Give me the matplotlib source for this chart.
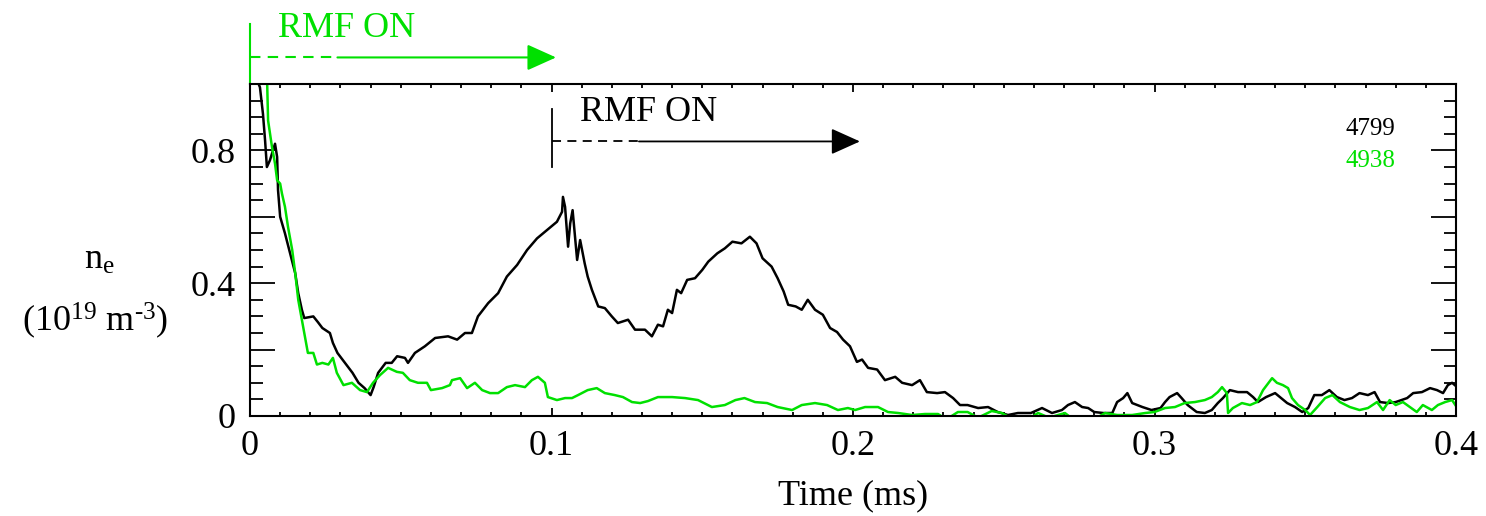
import matplotlib
matplotlib.use("Agg")
import matplotlib.pyplot as plt
from matplotlib.ticker import MultipleLocator

plt.rcParams["font.family"] = ["Liberation Serif", "DejaVu Serif"]
plt.rcParams["mathtext.fontset"] = "custom"
plt.rcParams["mathtext.rm"] = "Liberation Serif"
plt.rcParams["mathtext.it"] = "Liberation Serif:italic"

# shot 4799 (black), time in ms, density in 1e19 m^-3
t_4799 = [
    0.0, 0.002, 0.0033, 0.0043, 0.005, 0.0056, 0.0066, 0.0083, 0.009, 0.0093,
    0.010, 0.0116, 0.0133, 0.015, 0.016, 0.0172, 0.018, 0.021, 0.0225, 0.024,
    0.0265, 0.0275, 0.029, 0.0315, 0.034, 0.036, 0.038, 0.040, 0.041, 0.0425,
    0.045, 0.047, 0.0488, 0.0514, 0.0524, 0.0547, 0.058, 0.0614, 0.0657, 0.0687,
    0.0713, 0.0736, 0.0756, 0.079, 0.0823, 0.0852, 0.0886, 0.0919, 0.0952, 0.0985,
    0.1018, 0.1035, 0.1038, 0.1045, 0.1055, 0.1062, 0.107, 0.1085, 0.1095, 0.111,
    0.112, 0.1134, 0.1155, 0.1177, 0.120, 0.122, 0.1254, 0.1277, 0.131, 0.1333,
    0.1353, 0.137, 0.1386, 0.140, 0.1416, 0.143, 0.145, 0.1476, 0.150, 0.152,
    0.155, 0.1575, 0.160, 0.163, 0.1658, 0.168, 0.170, 0.173, 0.175, 0.177,
    0.1785, 0.181, 0.183, 0.185, 0.1874, 0.190, 0.1924, 0.1947, 0.1967, 0.199,
    0.2013, 0.203, 0.205, 0.208, 0.2106, 0.214, 0.2163, 0.2196, 0.2222, 0.2245,
    0.2279, 0.2305, 0.2332, 0.2355, 0.238, 0.2415, 0.2448, 0.248, 0.2514, 0.2547,
    0.259, 0.2627, 0.266, 0.2693, 0.2713, 0.2736, 0.276, 0.278, 0.280, 0.283,
    0.286, 0.2876, 0.2896, 0.291, 0.2926, 0.296, 0.299, 0.302, 0.3035, 0.305,
    0.3075, 0.309, 0.311, 0.314, 0.3167, 0.319, 0.321, 0.3227, 0.325, 0.3277,
    0.3307, 0.3327, 0.3343, 0.337, 0.340, 0.342, 0.344, 0.3466, 0.349, 0.351,
    0.353, 0.3555, 0.358, 0.3605, 0.363, 0.3655, 0.368, 0.3708, 0.373, 0.3748,
    0.3775, 0.380, 0.3838, 0.3858, 0.3887, 0.3914, 0.3937, 0.3957, 0.3973, 0.3987,
    0.400,
]
ne_4799 = [
    1.10, 1.02, 0.99, 0.91, 0.83, 0.75, 0.77, 0.82, 0.78, 0.68,
    0.60, 0.55, 0.49, 0.43, 0.37, 0.32, 0.295, 0.30, 0.283, 0.265,
    0.25, 0.22, 0.19, 0.16, 0.13, 0.10, 0.084, 0.063, 0.087, 0.13,
    0.16, 0.16, 0.18, 0.175, 0.16, 0.19, 0.21, 0.235, 0.24, 0.23,
    0.25, 0.25, 0.30, 0.34, 0.37, 0.42, 0.455, 0.50, 0.535, 0.56,
    0.585, 0.615, 0.66, 0.63, 0.51, 0.58, 0.62, 0.47, 0.53, 0.46,
    0.42, 0.38, 0.33, 0.325, 0.30, 0.28, 0.29, 0.26, 0.26, 0.24,
    0.275, 0.27, 0.32, 0.31, 0.38, 0.37, 0.41, 0.415, 0.44, 0.465,
    0.49, 0.505, 0.525, 0.52, 0.54, 0.52, 0.475, 0.45, 0.415, 0.375,
    0.335, 0.33, 0.32, 0.35, 0.32, 0.305, 0.265, 0.253, 0.23, 0.21,
    0.163, 0.17, 0.145, 0.14, 0.108, 0.118, 0.10, 0.093, 0.108, 0.072,
    0.069, 0.072, 0.054, 0.033, 0.033, 0.024, 0.027, 0.012, 0.003, 0.009,
    0.009, 0.024, 0.009, 0.018, 0.033, 0.042, 0.027, 0.024, 0.012, 0.009,
    0.009, 0.042, 0.054, 0.069, 0.039, 0.027, 0.018, 0.024, 0.042, 0.057,
    0.069, 0.054, 0.033, 0.012, 0.009, 0.018, 0.039, 0.054, 0.078, 0.072,
    0.072, 0.057, 0.042, 0.057, 0.069, 0.054, 0.039, 0.027, 0.012, 0.024,
    0.063, 0.063, 0.078, 0.057, 0.048, 0.054, 0.069, 0.063, 0.072, 0.042,
    0.039, 0.042, 0.054, 0.069, 0.072, 0.084, 0.078, 0.069, 0.093, 0.10,
    0.09,
]

# shot 4938 (green)
t_4938 = [
    0.004, 0.0057, 0.006, 0.0073, 0.0083, 0.009, 0.010, 0.0106, 0.0116, 0.0126,
    0.014, 0.015, 0.016, 0.0172, 0.0182, 0.0192, 0.021, 0.0222, 0.024, 0.026,
    0.0275, 0.0288, 0.031, 0.0338, 0.0365, 0.0388, 0.0408, 0.0431, 0.0458, 0.0487,
    0.0507, 0.053, 0.0557, 0.0587, 0.060, 0.0637, 0.0663, 0.067, 0.0697, 0.072,
    0.0746, 0.077, 0.0796, 0.0823, 0.0852, 0.0879, 0.0912, 0.0935, 0.0955, 0.0978,
    0.0988, 0.1018, 0.1045, 0.1068, 0.1088, 0.112, 0.115, 0.1177, 0.121, 0.1237,
    0.1267, 0.1294, 0.132, 0.1353, 0.140, 0.1443, 0.1486, 0.1532, 0.1575, 0.161,
    0.164, 0.1675, 0.1715, 0.175, 0.1798, 0.183, 0.1874, 0.1914, 0.195, 0.1983,
    0.2007, 0.204, 0.2083, 0.2116, 0.215, 0.2196, 0.2239, 0.2282, 0.231, 0.2348,
    0.238, 0.2415, 0.246, 0.2494, 0.253, 0.258, 0.2614, 0.265, 0.2703, 0.273,
    0.280, 0.2836, 0.2876, 0.2926, 0.2969, 0.300, 0.3035, 0.3068, 0.310, 0.3134,
    0.3167, 0.319, 0.321, 0.3224, 0.324, 0.3244, 0.326, 0.329, 0.3317, 0.334,
    0.336, 0.339, 0.3406, 0.3426, 0.3443, 0.3456, 0.3476, 0.350, 0.3516, 0.354,
    0.3566, 0.359, 0.3615, 0.3648, 0.368, 0.3708, 0.3738, 0.3758, 0.378, 0.380,
    0.3824, 0.3847, 0.387, 0.389, 0.392, 0.394, 0.3964, 0.3987, 0.400,
]
ne_4938 = [
    1.10, 1.00, 0.89, 0.81, 0.76, 0.71, 0.70, 0.67, 0.63, 0.57,
    0.50, 0.43, 0.35, 0.29, 0.24, 0.19, 0.19, 0.155, 0.16, 0.155,
    0.175, 0.13, 0.093, 0.10, 0.078, 0.072, 0.10, 0.123, 0.145, 0.133,
    0.13, 0.108, 0.10, 0.10, 0.078, 0.084, 0.093, 0.108, 0.114, 0.084,
    0.10, 0.078, 0.069, 0.069, 0.087, 0.093, 0.087, 0.108, 0.118, 0.10,
    0.057, 0.048, 0.054, 0.054, 0.063, 0.078, 0.084, 0.069, 0.063, 0.057,
    0.042, 0.039, 0.045, 0.057, 0.057, 0.054, 0.048, 0.027, 0.033, 0.048,
    0.054, 0.042, 0.039, 0.027, 0.018, 0.033, 0.039, 0.033, 0.018, 0.024,
    0.018, 0.027, 0.027, 0.012, 0.009, 0.003, 0.006, 0.006, -0.01, 0.012,
    0.012, -0.005, 0.015, 0.009, -0.01, -0.01, 0.009, -0.005, 0.009, -0.01,
    -0.01, 0.009, 0.003, 0.003, 0.009, 0.012, 0.024, 0.027, 0.039, 0.042,
    0.048, 0.057, 0.072, 0.087, 0.069, 0.009, 0.024, 0.039, 0.033, 0.042,
    0.078, 0.114, 0.10, 0.093, 0.084, 0.054, 0.033, 0.018, 0.003, 0.027,
    0.054, 0.063, 0.042, 0.027, 0.018, 0.024, 0.042, 0.018, 0.048, 0.033,
    0.042, 0.027, 0.012, 0.033, 0.018, 0.033, 0.042, 0.048, 0.03,
]

x_ticks = [0, 0.1, 0.2, 0.3, 0.4]
x_ticklabels = ["0", "0.1", "0.2", "0.3", "0.4"]
y_ticks = [0, 0.2, 0.4, 0.6, 0.8, 1.0]
y_ticklabels = ["0", "", "0.4", "", "0.8", ""]

green = "#00e000"
fs = 26

fig = plt.figure(figsize=(14.86, 5.16), dpi=100)
ax = fig.add_axes([250 / 1486, 1 - 416 / 516, 1206 / 1486, 332 / 516])

ax.plot(t_4799, ne_4799, color="black", lw=1.8)
ax.plot(t_4938, ne_4938, color=green, lw=1.8)

ax.set_xlim(0, 0.4)
ax.set_ylim(0, 1.0)
ax.set_xticks(x_ticks)
ax.set_xticklabels(x_ticklabels)
ax.set_yticks(y_ticks)
ax.set_yticklabels(y_ticklabels)
ax.xaxis.set_minor_locator(MultipleLocator(0.01))
ax.yaxis.set_minor_locator(MultipleLocator(0.05))

ax.tick_params(which="both", direction="in", top=True, right=True,
               width=1.3, labelsize=fs, pad=10)
ax.tick_params(axis="x", which="major", length=6)
ax.tick_params(axis="x", which="minor", length=3)
ax.tick_params(axis="y", which="major", length=18)
ax.tick_params(axis="y", which="minor", length=9)
for s in ax.spines.values():
    s.set_linewidth(1.5)

ax.set_xlabel("Time (ms)", fontsize=fs, labelpad=12)
fig.text(0.067, 0.496, r"n$_{\mathregular{e}}$", fontsize=fs,
         ha="center", va="center")
fig.text(0.064, 0.378,
         r"(10$^{\mathregular{19}}$ m$^{\mathregular{\text{-}3}}$)",
         fontsize=fs, ha="center", va="center")

# RMF ON markers
arrow = "-|>,head_length=1.0,head_width=0.45"

ax.plot([0, 0], [1.0, 1.18], color=green, lw=1.5, clip_on=False)
ax.plot([0, 0.029], [1.08, 1.08], color=green, lw=1.5,
        ls=(0, (5, 3.5)), clip_on=False)
ax.annotate("", xy=(0.1015, 1.08), xytext=(0.029, 1.08),
            arrowprops=dict(arrowstyle=arrow, mutation_scale=18, color=green,
                            lw=1.5, shrinkA=0, shrinkB=0),
            annotation_clip=False)
ax.text(0.0093, 1.142, "RMF ON", color=green, fontsize=fs, va="baseline")

ax.plot([0.1, 0.1], [0.749, 0.926], color="black", lw=1.3)
ax.plot([0.1, 0.129], [0.827, 0.827], color="black", lw=1.3,
        ls=(0, (5, 3.5)))
ax.annotate("", xy=(0.2023, 0.827), xytext=(0.129, 0.827),
            arrowprops=dict(arrowstyle=arrow, mutation_scale=18, color="black",
                            lw=1.3, shrinkA=0, shrinkB=0))
ax.text(0.1095, 0.889, "RMF ON", color="black", fontsize=fs, va="baseline")

# shot numbers
ax.text(0.3632, 0.846, "4799", color="black", fontsize=18, va="baseline")
ax.text(0.3632, 0.750, "4938", color=green, fontsize=18, va="baseline")

fig.savefig("out.png", dpi=100)
